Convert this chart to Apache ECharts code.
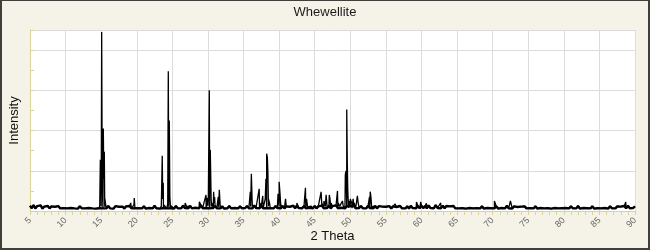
<!DOCTYPE html>
<html>
<head>
<meta charset="utf-8">
<script src="https://cdn.jsdelivr.net/npm/echarts@6/dist/echarts.min.js"></script>
<style>
html,body{margin:0;padding:0;background:#f5f3e7;}
#wrap{position:relative;width:650px;height:250px;}
#chart{position:absolute;left:0;top:0;width:650px;height:250px;}
#frame{position:absolute;left:0;top:0;width:650px;height:250px;box-sizing:border-box;border-style:solid;border-color:#403f39;border-width:1px 2px 2px 2px;pointer-events:none;}
</style>
</head>
<body>
<div id="wrap"><div id="chart"></div><div id="frame"></div></div>
<script>
// Chart text
const chartTitle = 'Whewellite';
const xName = '2 Theta';
const yName = 'Intensity';

// X axis ticks (2 Theta, degrees)
const xMin = 5, xMax = 90, xStep = 5;
// Y axis range (intensity, no labels shown)
const yMin = 0, yMax = 4500, yStep = 1000;

// Background scan: start angle, sampling step and read intensities
const scanStart = 5;
const scanStep = 0.25;
const scanIntensity = [
  130,70,150,65,120,75,140,60,110,70,125,65,115,70,105,75,120,65,100,70,
  110,65,100,75,115,65,105,60,120,70,100,65,110,75,95,65,105,60,100,70,
  115,65,105,70,125,65,100,60,120,75,105,65,110,60,115,70,125,65,105,70,
  110,70,100,65,120,60,105,75,100,65,130,70,115,60,105,75,120,65,100,70,
  115,60,125,70,105,65,135,75,110,70,125,65,105,80,120,65,150,70,115,75,
  120,65,110,75,125,70,100,65,115,60,105,70,125,65,110,75,100,65,120,70,
  115,75,125,70,110,65,140,75,115,70,130,65,110,75,120,70,105,65,125,75,
  110,70,125,65,115,75,105,70,130,65,140,75,110,70,125,65,105,80,120,70,
  125,65,115,75,135,70,110,75,130,65,120,75,140,70,115,80,125,65,120,75,
  115,70,130,65,110,75,125,70,115,65,135,75,105,70,125,65,120,75,110,70,
  105,65,120,60,115,75,100,65,125,70,110,65,120,60,130,75,115,70,125,65,
  135,70,125,65,140,75,115,70,145,75,110,70,135,65,125,80,115,70,125,65,
  105,65,100,70,115,60,105,75,100,65,110,70,100,65,120,60,105,75,100,70,
  110,65,120,60,105,75,100,65,130,70,105,60,115,75,100,65,110,70,115,65,
  100,70,110,65,120,60,100,75,110,65,105,70,115,60,100,75,115,65,105,70,
  115,75,100,65,120,70,110,65,125,60,105,75,115,70,100,65,120,60,105,70,
  110,65,105,75,100,60,120,70,105,65,115,75,110,70,125,65,135,70,115,75,
  115
];

// Peak points: angles and intensities
const peakAngle = [
  14.80,14.88,14.95,14.99,15.07,15.15,15.30,15.37,15.44,15.52,15.65,
  19.15,19.60,19.65,19.72,
  23.45,23.58,23.65,23.72,23.80,24.35,24.43,24.50,24.57,24.65,24.80,
  26.80,28.80,29.73,29.82,29.90,30.05,30.19,30.25,30.33,30.45,30.55,30.80,30.87,30.94,31.10,31.45,31.60,31.70,32.00,
  35.95,36.10,36.20,37.20,37.30,37.70,38.05,38.15,38.25,38.35,38.42,38.50,38.65,
  39.85,40.00,40.12,40.25,40.90,42.50,43.55,43.70,43.85,
  45.90,46.00,46.30,46.60,46.70,47.05,47.15,47.30,48.20,48.30,48.90,
  49.30,49.40,49.50,49.58,49.65,49.80,50.00,50.10,50.20,50.40,50.55,51.00,51.10,
  52.70,52.80,52.90,53.00,56.30,59.30,59.90,60.70,62.70,70.25,72.50,88.70
];
const peakIntensity = [
  150,1275,400,600,4450,700,2050,800,1475,300,130,
  200,150,325,130,
  120,1375,300,700,150,200,3475,900,2250,350,130,
  200,230,400,200,325,250,3000,800,1525,300,200,480,200,350,150,350,525,200,130,
  475,925,300,550,200,375,300,800,1425,1325,975,300,200,
  425,725,450,150,300,200,250,575,300,
  475,200,250,400,200,400,300,200,500,200,250,
  900,1000,2525,1200,500,250,300,275,200,300,200,380,200,
  350,480,350,150,175,225,225,190,200,250,250,225
];

// Build tables for the library
const scanPoints = scanIntensity.map((v, i) => [scanStart + i * scanStep, v]);
const points = scanPoints.concat(peakAngle.map((a, i) => [a, peakIntensity[i]]));
points.sort((p, q) => p[0] - q[0]);

const axisYellow = '#d9d49a';
const gridGray = '#dcdcdc';
const font = '"Liberation Sans", Arial, sans-serif';

const chart = echarts.init(document.getElementById('chart'), null, {renderer: 'canvas'});
chart.setOption({
  animation: false,
  backgroundColor: '#f5f3e7',
  title: {
    text: chartTitle, left: 'center', top: 1,
    textStyle: {fontSize: 13, fontWeight: 'normal', color: '#1a1a1a', fontFamily: font}
  },
  grid: {left: 30, top: 30, right: 15, bottom: 39, containLabel: false, outerBoundsMode: 'none',
         show: true, backgroundColor: '#ffffff', borderWidth: 0},
  xAxis: {
    type: 'value', min: xMin, max: xMax, interval: xStep,
    name: xName, nameLocation: 'middle', nameGap: 19, nameMoveOverlap: false,
    nameTextStyle: {fontSize: 13, color: '#111', fontFamily: font},
    axisLine: {show: true, onZero: false, lineStyle: {color: axisYellow, width: 1}},
    axisTick: {show: true, length: 4, lineStyle: {color: axisYellow}},
    minorTick: {show: true, splitNumber: 5, length: 4, lineStyle: {color: axisYellow}},
    axisLabel: {rotate: 45, fontSize: 9, color: '#666', margin: 8, fontFamily: font},
    splitLine: {show: true, lineStyle: {color: gridGray, width: 1}}
  },
  yAxis: {
    type: 'value', min: yMin, max: yMax, interval: yStep,
    name: yName, nameLocation: 'middle', nameGap: 9, nameMoveOverlap: false,
    nameTextStyle: {fontSize: 13, color: '#111', fontFamily: font},
    axisLine: {show: true, onZero: false, lineStyle: {color: axisYellow, width: 1}},
    axisTick: {show: true, inside: true, length: 4, lineStyle: {color: axisYellow}},
    minorTick: {show: true, splitNumber: 2, length: 4, lineStyle: {color: axisYellow}},
    axisLabel: {show: false},
    splitLine: {show: true, lineStyle: {color: gridGray, width: 1}}
  },
  series: [{
    type: 'line', data: scanPoints, showSymbol: false, symbol: 'none', sampling: null,
    lineStyle: {color: '#000', width: 2.4}, silent: true
  }, {
    type: 'line', data: points, showSymbol: false, symbol: 'none', sampling: null,
    lineStyle: {color: '#000', width: 1.3}, silent: true
  }]
});
</script>
</body>
</html>
